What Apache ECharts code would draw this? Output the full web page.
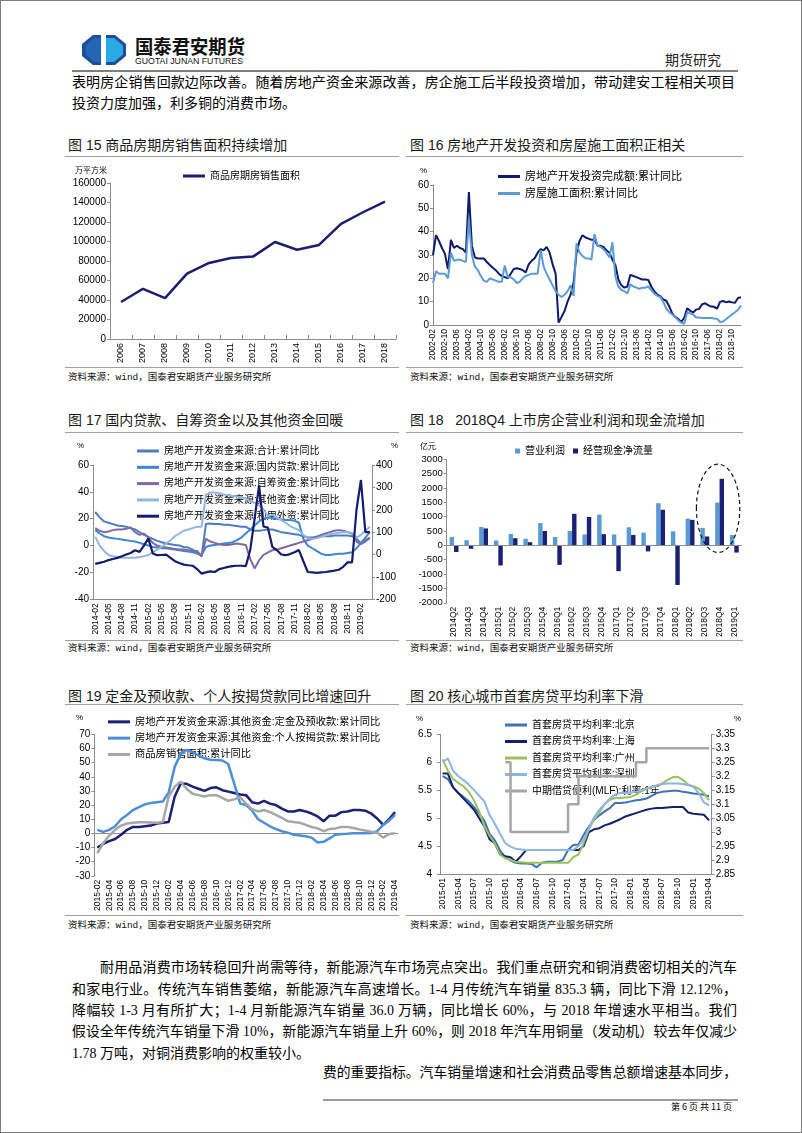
<!DOCTYPE html>
<html><head><meta charset="utf-8">
<script src="https://cdn.jsdelivr.net/npm/echarts/dist/echarts.min.js"></script>
<style>
html,body{margin:0;padding:0;background:#fff;}
#page{position:relative;width:802px;height:1133px;overflow:hidden;background:#fff;color:#000;font-family:'Liberation Serif','Noto Sans CJK SC',serif;}
#frame{position:absolute;left:0;top:0;width:802px;height:1133px;box-sizing:border-box;border:1px solid #7c7c7c;pointer-events:none;z-index:50;}
.abs{position:absolute;white-space:pre;}
.jl{position:absolute;font-size:14px;height:20px;line-height:20px;overflow:hidden;text-align:justify;text-align-last:justify;white-space:normal;}
.hl{position:absolute;height:1px;background:#a0a0a0;}
.title{position:absolute;white-space:pre;font-size:14px;line-height:18px;font-family:'Liberation Sans','Noto Sans CJK SC',sans-serif;color:#1a1a1a;}
.src{position:absolute;white-space:pre;font-size:9.5px;line-height:12px;font-family:'Liberation Mono','Noto Sans CJK SC',monospace;color:#111;}
.chart{position:absolute;}
</style></head>
<body>
<div id="page">
  <svg class="abs" style="left:82px;top:35px" width="44" height="30" viewBox="0 0 44 30">
    <polygon points="11,0 33,0 44,9 44,21 33,30 11,30 0,21 0,9" fill="#1b4f9b"/>
    <polygon points="24,3 32,3 41,10.5 41,19.5 32,27 24,27" fill="#2aa9e2"/>
    <polygon points="19,3 12,3 3.5,10.5 3.5,19.5 12,27 19,27" fill="#2466b3"/>
    <rect x="19" y="0" width="5" height="30" fill="#ffffff"/>
  </svg>
  <svg class="abs" style="left:134px;top:34px" width="114" height="34">
    <text x="1" y="20" font-family="Noto Sans CJK SC" font-weight="bold" font-size="19" textLength="110" lengthAdjust="spacingAndGlyphs" fill="#111">国泰君安期货</text>
    <text x="1" y="30" font-family="Liberation Sans" font-size="8.5" textLength="108" lengthAdjust="spacingAndGlyphs" fill="#111">GUOTAI JUNAN FUTURES</text>
  </svg>
  <div class="abs" style="left:665px;top:50px;font-size:14px;line-height:18px;font-family:'Noto Sans CJK SC';color:#222">期货研究</div>
  <div class="hl" style="left:72px;top:70px;width:666px;height:2px;background:#7f7f7f"></div>

  <div class="jl" style="left:72px;top:73px;width:663px">表明房企销售回款边际改善。随着房地产资金来源改善，房企施工后半段投资增加，带动建安工程相关项目</div>
  <div class="abs" style="left:72px;top:94px;font-size:14px;line-height:20px">投资力度加强，利多铜的消费市场。</div>

  <div class="title" style="left:68px;top:136px">图 15 商品房期房销售面积持续增加</div>
  <div class="title" style="left:410px;top:136px">图 16 房地产开发投资和房屋施工面积正相关</div>
  <div class="hl" style="left:65px;top:156px;width:334px"></div>
  <div class="hl" style="left:406px;top:156px;width:337px"></div>
  <div class="hl" style="left:65px;top:367px;width:334px"></div>
  <div class="hl" style="left:406px;top:367px;width:337px"></div>
  <div class="src" style="left:68px;top:372px">资料来源：wind，国泰君安期货产业服务研究所</div>
  <div class="src" style="left:410px;top:372px">资料来源：wind，国泰君安期货产业服务研究所</div>

  <div class="title" style="left:68px;top:411px">图 17 国内贷款、自筹资金以及其他资金回暖</div>
  <div class="title" style="left:410px;top:411px">图 18   2018Q4 上市房企营业利润和现金流增加</div>
  <div class="hl" style="left:65px;top:432px;width:334px"></div>
  <div class="hl" style="left:406px;top:432px;width:337px"></div>
  <div class="hl" style="left:65px;top:640px;width:334px"></div>
  <div class="hl" style="left:406px;top:640px;width:337px"></div>
  <div class="src" style="left:68px;top:643px">资料来源：wind，国泰君安期货产业服务研究所</div>
  <div class="src" style="left:410px;top:643px">资料来源：wind，国泰君安期货产业服务研究所</div>

  <div class="title" style="left:68px;top:687px">图 19 定金及预收款、个人按揭贷款同比增速回升</div>
  <div class="title" style="left:410px;top:687px">图 20 核心城市首套房贷平均利率下滑</div>
  <div class="hl" style="left:65px;top:704px;width:334px"></div>
  <div class="hl" style="left:406px;top:704px;width:337px"></div>
  <div class="hl" style="left:65px;top:915px;width:334px"></div>
  <div class="hl" style="left:406px;top:915px;width:337px"></div>
  <div class="src" style="left:68px;top:920px">资料来源：wind，国泰君安期货产业服务研究所</div>
  <div class="src" style="left:410px;top:920px">资料来源：wind，国泰君安期货产业服务研究所</div>

  <div class="jl" style="left:100px;top:958px;width:637px">耐用品消费市场转稳回升尚需等待，新能源汽车市场亮点突出。我们重点研究和铜消费密切相关的汽车</div>
  <div class="jl" style="left:72px;top:980px;width:665px">和家电行业。传统汽车销售萎缩，新能源汽车高速增长。1-4 月传统汽车销量 835.3 辆，同比下滑 12.12%，</div>
  <div class="jl" style="left:72px;top:1001px;width:665px">降幅较 1-3 月有所扩大；1-4 月新能源汽车销量 36.0 万辆，同比增长 60%，与 2018 年增速水平相当。我们</div>
  <div class="jl" style="left:72px;top:1022px;width:665px">假设全年传统汽车销量下滑 10%，新能源汽车销量上升 60%，则 2018 年汽车用铜量（发动机）较去年仅减少</div>
  <div class="abs" style="left:72px;top:1044px;font-size:14px;line-height:20px">1.78 万吨，对铜消费影响的权重较小。</div>
  <div class="jl" style="left:323px;top:1063px;width:414px">费的重要指标。汽车销量增速和社会消费品零售总额增速基本同步，</div>
  <div class="hl" style="left:323px;top:1099px;width:415px;height:2px;background:#9a9a9a"></div>
  <div class="abs" style="left:671px;top:1101px;font-size:9px;line-height:11px;font-family:'Noto Sans CJK SC'">第 6 页 共 11 页</div>

  <div id="c15" class="chart" style="left:60px;top:160px;width:340px;height:212px"></div>
  <div id="c16" class="chart" style="left:400px;top:160px;width:402px;height:212px"></div>
  <div id="c17" class="chart" style="left:60px;top:436px;width:340px;height:204px"></div>
  <div id="c18" class="chart" style="left:400px;top:436px;width:402px;height:204px"></div>
  <div id="c19" class="chart" style="left:60px;top:706px;width:340px;height:208px"></div>
  <div id="c20" class="chart" style="left:400px;top:706px;width:402px;height:208px"></div>
  <div id="frame"></div>
</div>
<script>
// ---------- DATA ----------
function monthSeq(y0, m0, y1, m1, step) {
  const out = []; let y = y0, m = m0;
  while (y < y1 || (y === y1 && m <= m1)) {
    out.push(y + '-' + String(m).padStart(2, '0'));
    m += step; while (m > 12) { m -= 12; y++; }
  }
  return out;
}

// Fig 15
const c15Years = ['2006','2007','2008','2009','2010','2011','2012','2013','2014','2015','2016','2017','2018'];
const c15Area = [38000,51500,42000,67000,78000,83000,84500,99500,91500,96500,118000,130000,141000];

// Fig 16 (every 2 months, 2002-02 .. 2019-04)
const c16Dates = monthSeq(2002, 2, 2019, 4, 2);
const c16Invest = [30,38.5,36,33,30.5,24,36.5,33,34,33,
  32.5,31,57,34,29,28.5,28.5,28.5,27,25.7,
  24.5,23.5,22,21,20.5,20,22,24,24.3,24,
  23.5,22.5,26,27.5,28.6,31,32.5,32,33.5,31,
  26,22,1,3.5,6,10,13,18,31,36,
  38.5,37.5,37,36.5,36.5,34,34,33.5,32,31,
  28,25.7,19.5,17,16,16.5,21.5,21,20.5,20,
  19.5,19.5,19.3,16.5,14.5,13,12.4,11,10.4,8,
  5,3.5,2.6,1.3,3,7.2,6.1,5.4,6.6,6.9,
  8.9,9.3,8.5,7.9,7.8,7.0,9.9,10.3,9.7,10.1,
  9.7,9.5,11.6,11.9];
const c16Area = [18,23,22,22,22,20,31,27.5,28,28,
  27.5,27,45,30,25,23.5,21,19,18.5,20,
  19.5,19,18.5,18.5,25.5,20.5,20.5,19.5,18,18.5,
  20,21,21.5,22,22,22,32,25,22,19.5,
  17,14.5,13,12,13,14.5,17,12.5,35,31,
  29.5,28.6,28.5,28,39,34,33.5,32.5,31,29,
  35.5,20.7,16.5,15,14.5,13.5,17.5,16.5,16,15.5,
  16,16,16.5,15,13.5,12.5,12,10,7,5.5,
  4.5,3.5,2,1,0.5,5.5,5,4.5,3.2,3.2,
  3,3,3,3,2.8,2.7,1.3,1.5,2.5,3.5,
  4.5,5.5,6.5,8.3];

// Fig 17 (monthly 2014-02 .. 2019-04)
const c17Dates = monthSeq(2014, 2, 2019, 4, 1);
const c17Total = [25,21,18,17,16,15,14.5,14,13,12,10,
  8,6.5,5,3.5,2.5,1.5,1,0.5,0,-1,-1.5,-3,
  -5,-8,16,16.5,16,16,15.5,15.5,15,14.5,14,14,
  12,11,11,11.5,12,12,11,10,9.5,9,8.5,8,
  7,6,6,6.5,7,7,7,7.5,7.5,7.5,7.5,7,
  5,2,4,6];
const c17Loan = [11.5,9,7,6,5.5,5,4.5,4,3.5,3,2,
  1,0,-1,-1.5,-2,-2,-2.5,-3,-3.5,-4,-4.5,-5,
  -6,-7,-1,0,0.5,1,1.5,2,2.5,4,6,9,
  12,15,18,20,21,20.5,20,19.5,19,19,18.5,17,
  5,0,-2,-4,-6,-7,-7,-6.5,-6,-6,-5.5,-5,
  -2,2,6,10];
const c17Self = [13,11,10,10.5,11.5,12,12,12.5,13.5,10,8,
  9,6,2,0,-1,-1.5,-2,-2.5,-3,-3,-3.5,-4,
  -4,-8,5,3,2,1,0.5,0.5,1,1.5,1,0.5,
  -10,-17,-11,-7,-5,-3.5,-3,-2,-1,0,1,2,
  3,4,5,6.5,8,9,10,11,11.5,11,10,9,
  3,1,3,5.5];
const c17Other = [6.7,0,-4,-7,-8,-8.5,-9,-9,-9,-9,-8.5,
  -8,-7,-5,-3,-1,1.5,4,7,9,11,12,13,
  14,14,38,39.5,39.5,39,38,37.5,37,36.5,36,35,
  33,32,30,27,22,23,21,19,17,14.5,13,11.5,
  8,5.5,5,5.5,6.5,7.5,8.5,9,9.5,10,10,9.5,
  6,8,11,14];
const c17Foreign = [-42,-37,-32,-25,-20,-15,-8,0,7,19,12,
  40,72,5,-3,-2,0,-15,-30,-38,-45,-48,-50,
  -65,-85,-80,-75,-78,-65,-60,-55,-52,-50,-50,-52,
  20,160,310,125,120,34,20,0,-3,2,10,20,
  -30,-78,-80,-82,-80,-78,-75,-72,-68,-55,-35,-35,
  200,333,100,100];

// Fig 18
const c18Quarters = ['2014Q2','2014Q3','2014Q4','2015Q1','2015Q2','2015Q3','2015Q4','2016Q1','2016Q2','2016Q3','2016Q4','2017Q1','2017Q2','2017Q3','2017Q4','2018Q1','2018Q2','2018Q3','2018Q4','2019Q1'];
const c18Profit = [290,180,640,170,400,230,780,290,500,380,1070,380,630,440,1470,490,930,610,1490,360];
const c18Cash = [-230,-120,590,-700,250,110,500,-680,1100,990,390,-900,360,-210,1240,-1380,890,310,2320,-250];
const c18Ring = {cat:'2018Q4', top:2830, bottom:-250};

// Fig 19 (monthly 2015-02 .. 2019-04)
const c19Dates = monthSeq(2015, 2, 2019, 4, 1);
const c19Deposit = [-10,-7.5,-5.5,-4,-1,2.5,4.5,4.5,5,5.5,
  7,7.5,8,26,35,35,33,31.5,30,32,
  32.5,30.5,29.5,28.5,27.5,27,22,21,23,21,
  20,17.5,15.5,15.5,16.5,15.5,14,12,8.5,12.5,
  12.5,15,15.5,16.5,16.5,16,14,10.5,6,10,
  15];
const c19Mortgage = [2.5,1,2.5,5,10,13,16.5,18.5,20.5,21.5,
  22,22.5,29,47,56,59,57.5,55,53,52,
  51.8,51.5,49,35,21,20,16,10,7.5,5,
  3,1.5,0.5,-1,-1.5,-2,-3,-6.5,-6,-3.5,
  -1,-0.5,-0.3,0,0,0,0.2,1.5,6,9,
  13];
const c19Sales = [-14,-7,-1.5,2.5,5.5,7,7.5,7.8,7.8,7.7,
  7.5,8,26,33,36.5,31.5,28,27,26,27,
  27,25,23,24,25.5,21,17,15.5,16.5,15,
  13,11,8.5,8,7.5,6,4.5,3.5,1.5,3,
  3.5,4.5,4.5,3.8,2.8,2,1.2,0.5,-3,-0.5,
  0];

// Fig 20 (monthly 2015-01 .. 2019-04)
const c20Dates = monthSeq(2015, 1, 2019, 4, 1);
const c20BJ = [5.75,5.7,5.55,5.45,5.38,5.3,5.2,5.08,4.95,4.72,
  4.6,4.42,4.3,4.24,4.2,4.19,4.19,4.18,4.12,4.2,
  4.22,4.22,4.22,4.25,4.43,4.52,4.53,4.7,4.85,4.97,
  5.05,5.12,5.18,5.27,5.27,5.28,5.3,5.32,5.33,5.35,
  5.4,5.45,5.47,5.48,5.49,5.49,5.47,5.46,5.44,5.43,
  5.42,5.39];
const c20SH = [5.8,5.8,5.55,5.45,5.35,5.25,5.15,5.0,4.85,4.62,
  4.55,4.35,4.32,4.3,4.22,4.32,4.43,4.43,4.43,4.43,
  4.43,4.43,4.43,4.43,4.43,4.43,4.43,4.5,4.75,4.8,
  4.82,4.87,4.9,4.94,4.98,5.03,5.06,5.09,5.12,5.15,
  5.17,5.18,5.18,5.19,5.2,5.2,5.2,5.1,5.08,5.07,
  5.06,4.96];
const c20GZ = [6.05,5.85,5.7,5.63,5.57,5.47,5.32,5.12,4.85,4.68,
  4.55,4.35,4.28,4.25,4.22,4.21,4.2,4.2,4.2,4.2,
  4.2,4.2,4.2,4.2,4.2,4.3,4.35,4.55,4.8,4.98,
  5.1,5.25,5.33,5.36,5.36,5.37,5.38,5.42,5.48,5.52,
  5.55,5.58,5.62,5.68,5.73,5.74,5.68,5.6,5.57,5.53,
  5.45,5.32];
const c20SZ = [6.0,6.07,5.85,5.75,5.68,5.6,5.5,5.4,5.3,5.05,
  4.9,4.72,4.55,4.49,4.45,4.44,4.43,4.43,4.43,4.43,
  4.43,4.43,4.43,4.43,4.43,4.43,4.5,4.62,4.82,5.02,
  5.15,5.25,5.35,5.42,5.45,5.45,5.46,5.47,5.5,5.53,
  5.56,5.59,5.61,5.62,5.62,5.62,5.61,5.59,5.56,5.45,
  5.28,5.23];
const c20MLF = ['-','-','-','-','-','-','-','-','-','-','-','-',
  3.25,3.0,3.0,3.0,3.0,3.0,3.0,3.0,3.0,3.0,3.0,3.0,
  3.1,3.1,3.2,3.2,3.2,3.2,3.2,3.2,3.2,3.2,3.2,3.2,3.2,
  3.25,3.25,3.3,3.3,3.3,3.3,3.3,3.3,3.3,3.3,3.3,3.3,3.3,3.3,3.3];

// ---------- HELPERS ----------
const FONT = "'Liberation Sans','Noto Sans CJK SC',sans-serif";
const AXC = '#8c8c8c';
const plain = function (v) { return String(+(+v).toFixed(2)); };
function valAxis(o, lab) {
  return Object.assign({
    type: 'value', splitLine: {show: false},
    axisLine: {show: true, lineStyle: {color: AXC}},
    axisTick: {show: true, length: 3, lineStyle: {color: AXC}},
    axisLabel: Object.assign({fontSize: 10, color: '#000', fontFamily: FONT, margin: 4, formatter: plain}, lab || {})
  }, o);
}
function catAxis(data, o, lab) {
  return Object.assign({
    type: 'category', data: data,
    axisLine: {show: true, lineStyle: {color: AXC}},
    axisTick: {show: false},
    axisLabel: Object.assign({rotate: 90, fontSize: 8.5, color: '#000', fontFamily: FONT, margin: 4}, lab || {})
  }, o);
}
function lineS(name, data, color, width, extra) {
  return Object.assign({type: 'line', name: name, data: data, symbol: 'none', showSymbol: false,
    lineStyle: {color: color, width: width}, itemStyle: {color: color}}, extra || {});
}
function legendV(left, top, gap, fs, names) {
  return {orient: 'vertical', left: left, top: top, z: 1, icon: 'rect', itemWidth: 22, itemHeight: 3,
    itemGap: gap, textStyle: {fontSize: fs, lineHeight: fs + 2, color: '#000', fontFamily: FONT}, data: names};
}
function unit(text, left, top) {
  return {type: 'text', left: left, top: top, style: {text: text, fontSize: 8, fontFamily: FONT, fill: '#000'}};
}

// ---------- FIG 15 ----------
const c15 = echarts.init(document.getElementById('c15'));
c15.setOption({
  animation: false,
  grid: {left: 50, right: 4, top: 23, bottom: 33},
  legend: legendV(118, 5, 4, 10, ['商品房期房销售面积']),
  graphic: [unit('万平方米', 15, 7)],
  xAxis: catAxis(c15Years, {boundaryGap: true, axisTick: {show: true, inside: true, length: 4, lineStyle: {color: AXC}}}, {fontSize: 9}),
  yAxis: valAxis({min: 0, max: 160000, interval: 20000}),
  series: [lineS('商品房期房销售面积', c15Area, '#1c1c74', 2.5)]
});

// ---------- FIG 16 ----------
const c16 = echarts.init(document.getElementById('c16'));
c16.setOption({
  animation: false,
  grid: {left: 33, right: 61, top: 25, bottom: 47},
  legend: legendV(93, 5, 4, 11, ['房地产开发投资完成额:累计同比', '房屋施工面积:累计同比']),
  graphic: [unit('%', 20, 7)],
  xAxis: catAxis(c16Dates, {boundaryGap: false}, {interval: 3}),
  yAxis: valAxis({min: 0, max: 60, interval: 10}),
  series: [
    lineS('房地产开发投资完成额:累计同比', c16Invest, '#0f1a6e', 2),
    lineS('房屋施工面积:累计同比', c16Area, '#5b9bd5', 2)
  ]
});

// ---------- FIG 17 ----------
const c17 = echarts.init(document.getElementById('c17'));
const n17 = ['房地产开发资金来源:合计:累计同比','房地产开发资金来源:国内贷款:累计同比','房地产开发资金来源:自筹资金:累计同比','房地产开发资金来源:其他资金:累计同比','房地产开发资金来源:利用外资:累计同比'];
c17.setOption({
  animation: false,
  grid: {left: 33, right: 28, top: 29, bottom: 40.7},
  legend: legendV(72, 4, 4.3, 10, n17),
  graphic: [unit('%', 17, 6), unit('%', 331, 6)],
  xAxis: catAxis(c17Dates, {boundaryGap: true, axisLine: {show: true, onZero: false, lineStyle: {color: AXC}}}, {interval: 2}),
  yAxis: [
    valAxis({min: -40, max: 60, interval: 20, position: 'left'}),
    valAxis({min: -200, max: 400, interval: 100, position: 'right'})
  ],
  series: [
    lineS(n17[0], c17Total, '#4a7ebf', 2),
    lineS(n17[1], c17Loan, '#3d86d4', 2),
    lineS(n17[2], c17Self, '#7f6aa6', 2),
    lineS(n17[3], c17Other, '#92b6e2', 2),
    lineS(n17[4], c17Foreign, '#141c6e', 2.2, {yAxisIndex: 1})
  ]
});

// ---------- FIG 18 ----------
const c18 = echarts.init(document.getElementById('c18'));
c18.setOption({
  animation: false,
  grid: {left: 46.7, right: 60.3, top: 23.3, bottom: 36},
  legend: {left: 110, top: 5, icon: 'rect', itemWidth: 5, itemHeight: 5, itemGap: 8,
    textStyle: {fontSize: 10, color: '#000', fontFamily: FONT}, data: ['营业利润', '经营现金净流量']},
  graphic: [unit('亿元', 20, 7)],
  xAxis: catAxis(c18Quarters, {boundaryGap: true, axisLine: {show: false, onZero: false}}, {interval: 0}),
  yAxis: valAxis({min: -2000, max: 3000, interval: 500}, {fontSize: 9.5}),
  series: [
    {type: 'bar', name: '营业利润', data: c18Profit, itemStyle: {color: '#5b9bd5'}, barGap: '0%', barCategoryGap: '40%',
      markLine: {silent: true, symbol: 'none', label: {show: false}, lineStyle: {color: '#8c8c8c', type: 'solid', width: 1}, data: [{yAxis: 0}]}},
    {type: 'bar', name: '经营现金净流量', data: c18Cash, itemStyle: {color: '#1a1f78'}, barGap: '0%', barCategoryGap: '40%'}
  ]
});
(function () {
  const a = c18.convertToPixel({xAxisIndex: 0, yAxisIndex: 0}, ['2018Q3', c18Ring.top]);
  const b = c18.convertToPixel({xAxisIndex: 0, yAxisIndex: 0}, [c18Ring.cat, c18Ring.bottom]);
  const step = b[0] - a[0];
  c18.setOption({graphic: [unit('亿元', 20, 7), {type: 'ellipse', z: 10,
    shape: {cx: b[0] - 0.1 * step, cy: (a[1] + b[1]) / 2, rx: 1.47 * step, ry: (b[1] - a[1]) / 2},
    style: {fill: 'rgba(0,0,0,0)', stroke: '#111', lineWidth: 1.2, lineDash: [4, 3]}}]});
})();

// ---------- FIG 19 ----------
const c19 = echarts.init(document.getElementById('c19'));
const n19 = ['房地产开发资金来源:其他资金:定金及预收款:累计同比','房地产开发资金来源:其他资金:个人按揭贷款:累计同比','商品房销售面积:累计同比'];
c19.setOption({
  animation: false,
  grid: {left: 34.3, right: 2, top: 28.3, bottom: 5.7},
  legend: legendV(43, 4.7, 4, 10.3, n19),
  graphic: [unit('%', 16, 8)],
  xAxis: catAxis(c19Dates, {boundaryGap: true}, {interval: 1}),
  yAxis: valAxis({min: -30, max: 70, interval: 10}),
  series: [
    lineS(n19[0], c19Deposit, '#1a1f78', 2.5),
    lineS(n19[1], c19Mortgage, '#4a8fd8', 2.5),
    lineS(n19[2], c19Sales, '#a6a6a6', 2.5)
  ]
});

// ---------- FIG 20 ----------
const c20 = echarts.init(document.getElementById('c20'));
const n20 = ['首套房贷平均利率:北京','首套房贷平均利率:上海','首套房贷平均利率:广州','首套房贷平均利率:深圳','中期借贷便利(MLF):利率:1年'];
c20.setOption({
  animation: false,
  grid: {left: 40, right: 90.3, top: 28.3, bottom: 40},
  legend: legendV(100, 8, 4.5, 10, n20),
  graphic: [unit('%', 16, 9), unit('%', 334, 9)],
  xAxis: catAxis(c20Dates, {boundaryGap: true, axisLine: {show: true, onZero: false, lineStyle: {color: AXC}}}, {interval: 2}),
  yAxis: [
    valAxis({min: 4, max: 6.5, interval: 0.5, position: 'left'}, {margin: 8}),
    valAxis({min: 2.85, max: 3.35, interval: 0.05, position: 'right'})
  ],
  series: [
    lineS(n20[0], c20BJ, '#3e72b8', 2),
    lineS(n20[1], c20SH, '#14206e', 2),
    lineS(n20[2], c20GZ, '#9bc15b', 2),
    lineS(n20[3], c20SZ, '#8cb5e6', 2),
    lineS(n20[4], c20MLF, '#a6a6a6', 2.5, {yAxisIndex: 1, step: 'end'})
  ]
});

// fit justified lines onto one row
document.querySelectorAll('.jl').forEach(function (el) {
  let fs = parseFloat(getComputedStyle(el).fontSize), g = 0;
  while (el.scrollHeight > el.clientHeight + 1 && g < 25) { fs -= 0.2; el.style.fontSize = fs + 'px'; g++; }
});
</script>
</body></html>
